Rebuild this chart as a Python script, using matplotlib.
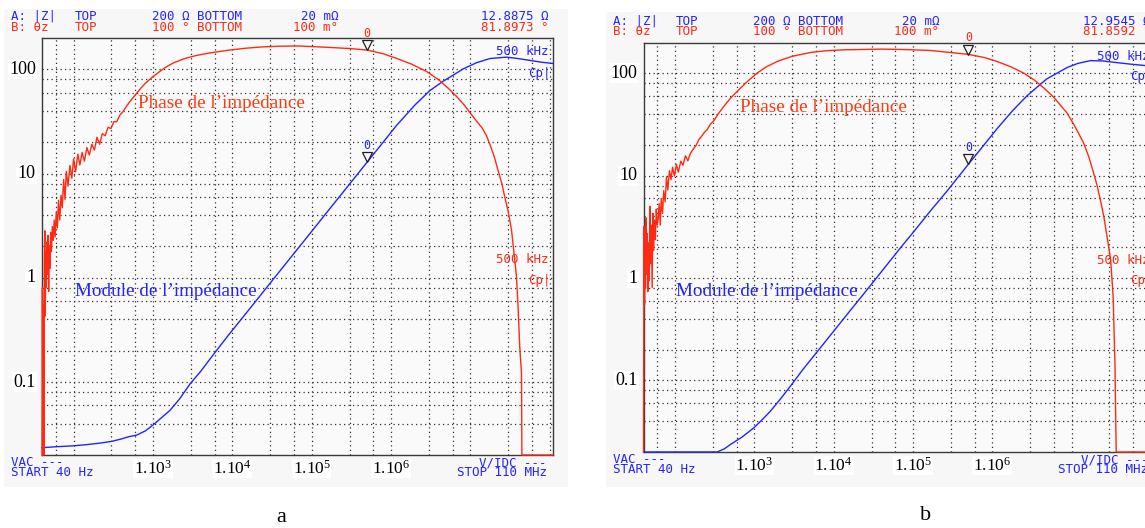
import matplotlib
matplotlib.use("Agg")
import matplotlib.pyplot as plt
from matplotlib import transforms
from matplotlib.patches import Rectangle

# --- données lues sur les deux écrans de l'analyseur (a et b) ---
# grille de l'analyseur (log, 40 Hz -> 110 MHz ; 20 mOhm -> 200 Ohm)
x_grid = [60, 100, 300, 600, 1e3, 3e3, 6e3, 1e4, 3e4, 6e4, 1e5, 3e5, 6e5,
          1e6, 3e6, 6e6, 1e7, 3e7, 6e7, 1e8]
y_grid = [0.04, 0.06, 0.08, 0.1, 0.2, 0.4, 0.6, 0.8, 1, 2, 4, 6, 8, 10,
          20, 40, 60, 80, 100]
y_labels = ["100", "10", "1", "0.1"]
y_label_vals = [100, 10, 1, 0.1]
x_label_vals = [1e3, 1e4, 1e5, 1e6]
x_labels = [r"$\mathrm{1.10^{3}}$", r"$\mathrm{1.10^{4}}$",
            r"$\mathrm{1.10^{5}}$", r"$\mathrm{1.10^{6}}$"]

# (a) module |Z| en Ohm
freq_mod_a = [40, 60, 100, 150, 215, 300, 400, 500, 620, 800, 1000, 1300, 1640,
              2200, 2930, 4000, 5200, 7000, 9300, 15000, 24500, 40000, 64500,
              100e3, 150e3, 226e3, 350e3, 500e3, 750e3, 1.17e6, 2e6, 3.08e6,
              4.54e6, 6e6, 8.1e6, 12e6, 17.6e6, 28.5e6, 40e6, 56e6, 80e6, 110e6]
mod_a = [0.0235, 0.024, 0.0245, 0.0252, 0.026, 0.027, 0.0285, 0.030, 0.031,
         0.034, 0.0387, 0.046, 0.0536, 0.070, 0.096, 0.127, 0.1655, 0.222,
         0.293, 0.460, 0.734, 1.17, 1.84, 2.79, 4.11, 6.06, 9.18, 12.89, 18.9,
         28.9, 45.5, 62.5, 77.0, 87.5, 101, 116, 127, 131, 127, 122, 117, 114]

# (a) phase en degres
freq_ph_a = [40, 40.5, 41, 41.6, 42.2, 42.8, 43.4, 44, 44.6, 45.3, 46, 46.8,
             47.6, 48.5, 49.4, 50.4, 51.5, 52.6, 54, 55.5, 57, 58.6, 60.5, 62.5,
             64.5, 67, 69.5, 72, 75, 78, 81, 85, 90, 95, 100, 106, 113, 120, 128,
             137, 147, 158, 170, 183, 197, 213, 230, 250, 272, 296, 322, 350,
             385, 420, 460, 510, 570, 640, 720, 820, 1000, 1400, 1800, 2500,
             3500, 5000, 9100, 15000, 24000, 40000, 70000, 140e3, 300e3, 500e3,
             800e3, 1.17e6, 1.8e6, 2.8e6, 4e6, 5.5e6, 7e6, 8.5e6, 10e6, 12e6,
             14e6, 16e6, 18e6, 20e6, 22.3e6, 25e6, 27.1e6, 29.9e6, 33e6, 35.5e6,
             38.1e6, 39.9e6, 41.9e6, 44.1e6, 44.6e6, 110e6]
ph_a = [0.1, 1.6, 0.1, 1.2, 0.1, 2.5, 4.1, 1.0, 2.9, 1.6, 3.4, 2.0, 3.8, 1.5,
        3.2, 2.2, 4.0, 2.9, 4.4, 3.5, 4.9, 3.7, 5.6, 4.3, 6.8, 4.9, 7.4, 6.0,
        9.6, 6.9, 11.0, 8.6, 12.1, 9.8, 13.5, 10.9, 14.6, 12.2, 15.0, 13.0,
        16.3, 14.4, 17.2, 15.6, 19.3, 17.2, 20.5, 19.8, 22.8, 22.3, 25.0, 25.0,
        28.0, 29.5, 32.0, 34.8, 37.6, 40.8, 44.2, 47.8, 52.7, 60.9, 66.1, 71.1,
        74.8, 77.8, 81.8, 84.5, 86.3, 87.3, 87.6, 86.0, 84.0, 81.9, 77.0, 71.4,
        65.0, 57.5, 50.0, 42.5, 37.0, 32.6, 28.8, 25.2, 22.6, 19.8, 16.6, 14.0,
        11.2, 8.9, 7.2, 5.7, 4.16, 2.83, 1.92, 1.17, 0.60, 0.386, 0.1, 0.1]

# (b) module |Z| en Ohm
freq_mod_b = [40, 200, 339, 420, 499, 700, 982, 1300, 1590, 2100, 2850, 4000,
              5600, 8000, 11000, 16000, 24000, 38800, 52000, 72000, 102e3,
              160e3, 270e3, 500e3, 750e3, 1.15e6, 1.8e6, 2.75e6, 4.84e6, 8.8e6,
              12e6, 17.3e6, 25e6, 34.6e6, 55e6, 85e6, 110e6]
mod_b = [0.02, 0.02, 0.02, 0.0215, 0.0237, 0.028, 0.0344, 0.0425, 0.050, 0.065,
         0.088, 0.125, 0.173, 0.244, 0.332, 0.477, 0.703, 1.12, 1.49, 2.04,
         2.83, 4.38, 7.11, 12.95, 19.1, 28.8, 43.1, 60.5, 88, 114, 125, 133,
         132, 128, 123, 119, 117]

# (b) phase en degres
freq_ph_b = [40, 40.3, 40.7, 41.2, 41.8, 42.4, 43.1, 43.8, 44.6, 45.4, 46.3,
             47.2, 48.2, 49.2, 50.3, 51.4, 52.6, 53.8, 55.1, 56.5, 58, 59.5, 61,
             63, 65, 67, 69.5, 72, 75, 78, 81, 85, 89, 93, 98, 104, 110, 118,
             126, 135, 145, 156, 170, 185, 200, 215, 235, 253, 280, 310, 350,
             410, 500, 667, 850, 1080, 1400, 1940, 2300, 3000, 5100, 8000, 13400,
             40000, 80000, 166e3, 500e3, 800e3, 1.15e6, 1.7e6, 2.5e6, 3.4e6,
             4.5e6, 6e6, 7.3e6, 8.8e6, 10.5e6, 12.3e6, 14.2e6, 16.5e6, 19e6,
             21e6, 23.1e6, 25.5e6, 28e6, 31.1e6, 33.4e6, 35.2e6, 36.5e6, 110e6]
ph_b = [0.1, 0.9, 4.5, 1.2, 3.8, 1.6, 5.2, 2.0, 4.0, 1.5, 3.4, 1.8, 6.3, 2.4,
        4.6, 1.6, 5.6, 3.0, 5.0, 3.6, 6.0, 4.6, 5.0, 6.6, 4.6, 7.2, 5.6, 8.2,
        6.8, 10.4, 8.3, 11.5, 9.9, 12.2, 10.5, 12.8, 11.2, 13.5, 12.6, 14.8,
        13.6, 15.4, 16.6, 17.7, 19.5, 20.5, 22.0, 22.9, 25.3, 26.8, 30.0, 33.9,
        39.1, 46.3, 52.9, 59.6, 66.1, 72.6, 75.2, 79.2, 84.5, 87.0, 88.4, 89.4,
        88.8, 87.4, 81.86, 77.5, 72.6, 66.5, 59.6, 53.0, 46.3, 39.5, 34.5,
        30.3, 25.5, 21.5, 18.3, 14.5, 11.0, 8.9, 7.0, 5.3, 3.78, 2.55, 1.37,
        0.44, 0.1, 0.1]

# marqueurs a 500 kHz (lectures affichees par l'analyseur)
marker_freq = 500e3
marker_mod = [12.8875, 12.9545]
marker_ph = [81.8973, 81.8592]

BLUE = "#2323ff"
RED = "#ff2a14"
PHASE_TXT = "#ff3a10"
MONO = "DejaVu Sans Mono"
SERIF = "Liberation Serif"

plt.rcParams["mathtext.fontset"] = "custom"
plt.rcParams["mathtext.rm"] = SERIF

W, H = 1145, 528
fig = plt.figure(figsize=(W / 100, H / 100), dpi=100)
fig.patch.set_facecolor("white")


def px_rect(x0, y0, x1, y1):
    return [x0 / W, 1 - y1 / H, (x1 - x0) / W, (y1 - y0) / H]


def panel(frame, bg, f_mod, mod, f_ph, ph, k, letter, letter_xy):
    # fond gris clair de la copie d'ecran
    b = px_rect(*bg)
    fig.patches.append(Rectangle((b[0], b[1]), b[2], b[3], transform=fig.transFigure,
                                 facecolor="#f7f7f7", edgecolor="none", zorder=-10))
    ax = fig.add_axes(px_rect(*frame))
    ax.set_facecolor("#fafafa")
    ax.set_xscale("log"); ax.set_yscale("log")
    ax.set_xlim(40, 110e6); ax.set_ylim(0.02, 200)
    ax.set_xticks(x_grid); ax.set_yticks(y_grid)
    ax.minorticks_off()
    ax.tick_params(length=0, labelbottom=False, labelleft=False)
    ax.grid(True, color="#303030", linestyle=(0, (1, 2.6)), linewidth=0.9)
    for s in ax.spines.values():
        s.set_color("#3a3a3a"); s.set_linewidth(1.0)
    ax.plot(f_mod, mod, color=BLUE, lw=1.0, clip_on=False, zorder=3)

    ax2 = ax.twinx()
    ax2.set_yscale("log"); ax2.set_ylim(0.1, 100)
    ax2.axis("off")
    ax2.plot(f_ph, ph, color=RED, lw=1.0, clip_on=False, zorder=3)

    # marqueurs (triangle creux, pointe sur la courbe)
    for a, val, col in [(ax, marker_mod[k], BLUE), (ax2, marker_ph[k], RED)]:
        tri = transforms.offset_copy(a.transData, fig=fig, x=0, y=3.4, units="points")
        a.plot([marker_freq], [val], marker="v", ms=7.5, mfc="none", mec="#202020",
               mew=0.9, transform=tri, clip_on=False, zorder=5)
        lab = transforms.offset_copy(a.transData, fig=fig, x=0, y=12, units="points")
        a.text(marker_freq, val, "0", transform=lab, color=col, family=MONO,
               fontsize=8.5, ha="center", va="center")

    # libelles de l'auteur
    for v, t in zip(y_label_vals, y_labels):
        ax.text(-0.012, v, t, transform=ax.get_yaxis_transform(), ha="right",
                va="center", family=SERIF, fontsize=13,
                bbox=dict(facecolor="white", edgecolor="none", pad=1.0))
    for v, t in zip(x_label_vals, x_labels):
        ax.text(v, -0.033, t, transform=ax.get_xaxis_transform(), ha="center",
                va="center", fontsize=12.5,
                bbox=dict(facecolor="white", edgecolor="none", pad=0.5))
    ax.text(0.188, 0.842, "Phase de l\u2019imp\u00e9dance", transform=ax.transAxes,
            color=PHASE_TXT, family=SERIF, fontsize=13.8, va="center")
    ax.text(0.064, 0.393, "Module de l\u2019imp\u00e9dance", transform=ax.transAxes,
            color=BLUE, family=SERIF, fontsize=13.8, va="center")

    # textes de l'ecran de l'analyseur
    mono = dict(transform=ax.transAxes, family=MONO, fontsize=9.0, va="center",
                clip_on=False)
    head = [("A: |Z|", "B: \u03b8z", -0.060), ("TOP", "TOP", 0.064),
            ("200 \u03a9 BOTTOM", "100 \u00b0 BOTTOM", 0.215)]
    for t1, t2, x in head:
        ax.text(x, 1.052, t1, color=BLUE, **mono)
        ax.text(x, 1.026, t2, color=RED, **mono)
    ax.text(0.506, 1.052, "20 m\u03a9", color=BLUE, **mono)
    ax.text(0.491, 1.026, "100 m\u00b0", color=RED, **mono)
    ax.text(0.86, 1.052, f"{marker_mod[k]:.4f} \u03a9", color=BLUE, **mono)
    ax.text(0.86, 1.026, f"{marker_ph[k]:.4f} \u00b0", color=RED, **mono)
    ax.text(0.888, 0.967, "500 kHz", color=BLUE, **mono)
    ax.text(0.952, 0.916, "Cp|", color=BLUE, **mono)
    ax.text(0.888, 0.468, "500 kHz", color=RED, **mono)
    ax.text(0.952, 0.418, "Cp|", color=RED, **mono)
    ax.text(-0.060, -0.019, "VAC ---", color=BLUE, **mono)
    ax.text(-0.060, -0.043, "START 40 Hz", color=BLUE, **mono)
    ax.text(0.856, -0.019, "V/IDC ---", color=BLUE, **mono)
    ax.text(0.812, -0.043, "STOP 110 MHz", color=BLUE, **mono)

    fig.text(letter_xy[0] / W, 1 - letter_xy[1] / H, letter, family=SERIF,
             fontsize=16, ha="center", va="center")


panel((42, 38, 553, 455), (4, 9, 568, 487), freq_mod_a, mod_a, freq_ph_a, ph_a,
      0, "a", (281, 518))
panel((643.5, 42.5, 1154.2, 452), (606, 12, 1145, 487), freq_mod_b, mod_b,
      freq_ph_b, ph_b, 1, "b", (926, 515))

fig.savefig("out.png", dpi=100)
